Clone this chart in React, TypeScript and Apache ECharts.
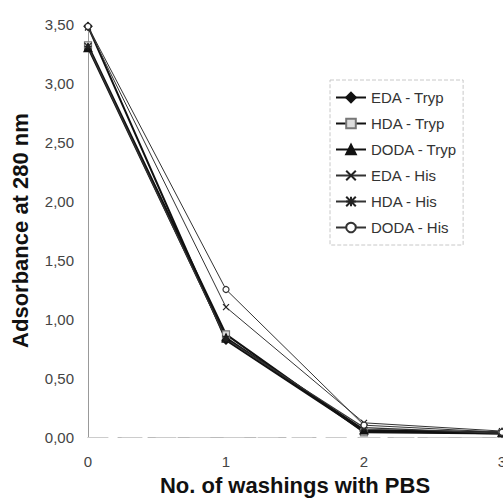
import React, { useEffect, useRef } from "react";
import * as echarts from "echarts";

const washings = [0, 1, 2, 3];
const seriesNames = ["EDA - Tryp", "HDA - Tryp", "DODA - Tryp", "EDA - His", "HDA - His", "DODA - His"];
const edaTryp = [3.48, 0.82, 0.05, 0.03];
const hdaTryp = [3.32, 0.87, 0.04, 0.03];
const dodaTryp = [3.30, 0.84, 0.06, 0.04];
const edaHis = [3.47, 1.1, 0.12, 0.05];
const hdaHis = [3.31, 0.83, 0.08, 0.03];
const dodaHis = [3.48, 1.25, 0.1, 0.04];
const yTicks = [0, 0.5, 1, 1.5, 2, 2.5, 3, 3.5];

const X_PATH = "path://M0,0L10,10M10,0L0,10";
const STAR_PATH = "path://M0,0L10,10M10,0L0,10M5,0L5,10M0,5L10,5";

export default function App() {
  const ref = useRef<HTMLDivElement>(null);
  useEffect(() => {
    if (!ref.current) return;
    const chart = echarts.init(ref.current, null, { renderer: "svg" });
    const allData = [edaTryp, hdaTryp, dodaTryp, edaHis, hdaHis, dodaHis];
    const styles = [
      { symbol: "diamond", size: 8, width: 2, color: "#111", fill: "#111" },
      { symbol: "rect", size: 7, width: 2, color: "#777", fill: "#ddd" },
      { symbol: "triangle", size: 8, width: 2, color: "#111", fill: "#111" },
      { symbol: X_PATH, size: 6, width: 1, color: "#222", fill: "none" },
      { symbol: STAR_PATH, size: 7, width: 1.3, color: "#222", fill: "none" },
      { symbol: "circle", size: 6, width: 1, color: "#333", fill: "#fff" },
    ];
    const series = allData.map((d, i) => {
      const s = styles[i];
      return {
        name: seriesNames[i],
        type: "line",
        data: washings.map((w, j) => [w, d[j]]),
        symbol: s.symbol,
        symbolSize: s.size,
        showSymbol: true,
        lineStyle: { color: i < 3 ? "#111" : "#333", width: s.width },
        itemStyle: { color: s.fill, borderColor: s.color, borderWidth: 1.2 },
        z: 3,
      };
    });
    const font = "Liberation Sans, Arial, sans-serif";
    chart.setOption({
      animation: false,
      textStyle: { fontFamily: font },
      grid: { left: 88, right: 1, top: 24, bottom: 62, outerBoundsMode: "none" },
      legend: {
        orient: "vertical",
        left: 330,
        top: 80,
        padding: [10, 6, 10, 5],
        itemGap: 11,
        itemWidth: 30,
        itemHeight: 12,
        borderColor: "#c8c8c8",
        borderWidth: 1,
        borderType: "dashed",
        textStyle: { fontSize: 15, color: "#333", fontFamily: font },
        data: seriesNames,
      },
      xAxis: [
        {
          type: "value",
          min: 0,
          max: 3,
          interval: 1,
          name: "No. of washings with PBS",
          nameLocation: "middle",
          nameGap: 37,
          nameTextStyle: { fontSize: 22, fontWeight: "bold", color: "#111", fontFamily: font },
          axisLine: { show: true, lineStyle: { color: "#bbb", type: [18, 12], width: 1 } },
          axisTick: { show: false },
          axisLabel: { fontSize: 15, color: "#444", margin: 17 },
          splitLine: { show: false },
        },
        {
          type: "value",
          position: "top",
          min: 0,
          max: 3,
          interval: 1,
          axisLine: { show: true, lineStyle: { color: "#ccc", type: [20, 14], width: 1 } },
          axisTick: { show: false },
          axisLabel: { show: false },
          splitLine: { show: false },
        },
      ],
      yAxis: [
        {
          type: "value",
          min: 0,
          max: 3.5,
          interval: 0.5,
          name: "Adsorbance at 280 nm",
          nameLocation: "middle",
          nameGap: 57,
          nameTextStyle: { fontSize: 22, fontWeight: "bold", color: "#111", fontFamily: font },
          axisLine: { show: true, lineStyle: { color: "#ddd", type: [30, 30], width: 1 } },
          axisTick: { show: false },
          axisLabel: {
            fontSize: 15,
            color: "#444",
            margin: 14,
            formatter: (v: number) => (yTicks.includes(v) ? v.toFixed(2).replace(".", ",") : ""),
          },
          splitLine: { show: false },
        },
        {
          type: "value",
          position: "right",
          min: 0,
          max: 3.5,
          interval: 0.5,
          axisLine: { show: true, lineStyle: { color: "#999", width: 1 } },
          axisTick: { show: false },
          axisLabel: { show: false },
          splitLine: { show: false },
        },
      ],
      series,
    });
    return () => chart.dispose();
  }, []);
  return <div ref={ref} style={{ width: 503, height: 499, position: "absolute", left: 0, top: 0, background: "#fff" }} />;
}
